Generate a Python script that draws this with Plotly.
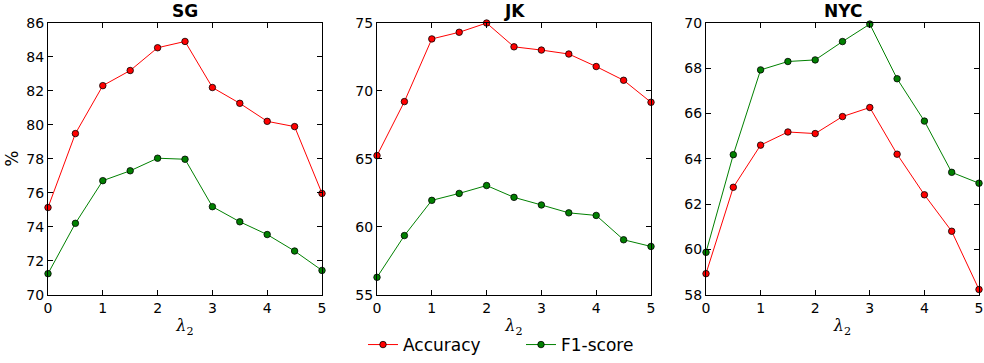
import plotly.graph_objects as go

lam = [0, 0.5, 1, 1.5, 2, 2.5, 3, 3.5, 4, 4.5, 5]

sg_acc = [75.13, 79.48, 82.30, 83.19, 84.53, 84.90, 82.19, 81.26, 80.20, 79.89, 75.96]
sg_f1 = [71.24, 74.20, 76.71, 77.29, 78.03, 77.97, 75.18, 74.29, 73.54, 72.57, 71.43]

jk_acc = [65.23, 69.20, 73.81, 74.30, 74.98, 73.23, 72.99, 72.70, 71.78, 70.77, 69.15]
jk_f1 = [56.28, 59.35, 61.94, 62.45, 63.03, 62.16, 61.60, 61.02, 60.83, 59.04, 58.55]

nyc_acc = [58.93, 62.74, 64.60, 65.18, 65.11, 65.86, 66.26, 64.20, 62.41, 60.80, 58.23]
nyc_f1 = [59.87, 64.18, 67.92, 68.29, 68.36, 69.17, 69.94, 67.53, 65.66, 63.40, 62.92]

titles = ["SG", "JK", "NYC"]
yranges = [(70, 86), (55, 75), (58, 70)]
ydticks = [2, 5, 2]
panels = [(sg_acc, sg_f1), (jk_acc, jk_f1), (nyc_acc, nyc_f1)]

W, H = 984, 363
xdoms = [(48, 322), (377, 651), (706, 979)]
ytop, ybot = 23, 298
ydom = [(H - ybot) / H, (H - ytop) / H]

fig = go.Figure()
font = "DejaVu Sans"

for i, (acc, f1) in enumerate(panels):
    xa = "x" if i == 0 else f"x{i+1}"
    ya = "y" if i == 0 else f"y{i+1}"
    for name, vals, col, lg in [("Accuracy", acc, "#ff0000", "legend"), ("F1-score", f1, "#008000", "legend2")]:
        fig.add_trace(go.Scatter(
            x=lam, y=vals, mode="lines+markers", name=name,
            xaxis=xa, yaxis=ya, showlegend=(i == 0), legendgroup=name, legend=lg,
            line=dict(color=col, width=1),
            marker=dict(color=col, size=6.5, line=dict(color="black", width=0.8)),
            cliponaxis=False,
        ))
    d = xdoms[i]
    axcommon = dict(showline=True, linecolor="black", linewidth=1, mirror="ticks",
                    ticks="inside", ticklen=5, tickcolor="black", showgrid=False,
                    zeroline=False, automargin=False,
                    tickfont=dict(family=font, size=14, color="black"))
    fig.layout[("xaxis" if i == 0 else f"xaxis{i+1}")] = dict(
        domain=[d[0] / W, d[1] / W], range=[0, 5], dtick=1, anchor=ya,
        title=dict(text="<i>λ</i><sub>2</sub>", font=dict(family="DejaVu Serif", size=16, color="black"), standoff=5),
        **axcommon)
    fig.layout[("yaxis" if i == 0 else f"yaxis{i+1}")] = dict(
        domain=ydom, range=list(yranges[i]), dtick=ydticks[i], anchor=xa,
        title=dict(text="%" if i == 0 else "", font=dict(family=font, size=17, color="black"), standoff=3),
        **axcommon)
    fig.add_annotation(x=(d[0] + d[1]) / 2 / W, y=(H - 11) / H, xref="paper", yref="paper",
                       yanchor="middle", xanchor="center",
                       text=f"<b>{titles[i]}</b>", showarrow=False,
                       font=dict(family=font, size=17, color="black"))

legcommon = dict(orientation="h", xanchor="left", y=(H - 349) / H, yanchor="middle",
                 font=dict(family=font, size=17, color="black"), bgcolor="rgba(0,0,0,0)")
fig.update_layout(
    width=W, height=H, margin=dict(l=0, r=0, t=0, b=0),
    plot_bgcolor="white", paper_bgcolor="white",
    legend=dict(x=363 / W, **legcommon),
    legend2=dict(x=521 / W, **legcommon),
)

fig.write_html("out.html")
